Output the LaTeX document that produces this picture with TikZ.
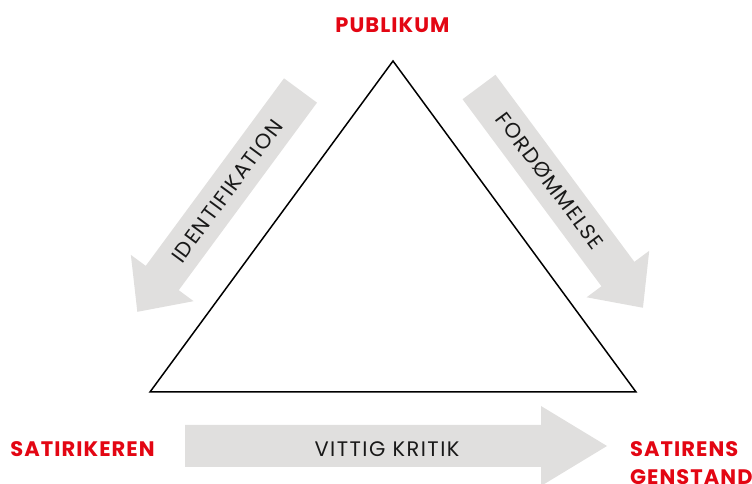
\documentclass[tikz,border=0pt]{standalone}
\usepackage{fontspec}
\setmainfont{Poppins}
\usetikzlibrary{calc}

\definecolor{satred}{RGB}{227,6,19}
\definecolor{arrowgray}{RGB}{224,223,222}
\definecolor{textblack}{RGB}{25,25,25}

\tikzset{
  redlabel/.style={text=satred, font=\bfseries\fontsize{21}{28}\selectfont\addfontfeature{LetterSpace=5}, inner sep=0pt},
  arrowlabel/.style={text=textblack, font=\fontsize{21}{24}\selectfont\addfontfeature{LetterSpace=7}, inner sep=0pt},
  fatarrow/.style={fill=arrowgray, draw=none}
}

\begin{document}
\begin{tikzpicture}[x=1pt,y=1pt]
	\useasboundingbox (0,0) rectangle (752,484);

	%arrows
	\begin{scope}[shift={(300.5,393.5)}, rotate=-126.4]	%identifikation
		\fill[fatarrow] (0,20.5)--(233,20.5)--(233,39)--(275,0)--(233,-39)--(233,-20.5)--(0,-20.5)--cycle;
	\end{scope}
	\begin{scope}[shift={(479,397)}, rotate=-53.4]		%fordommelse
		\fill[fatarrow] (0,20.5)--(233,20.5)--(233,39)--(275,0)--(233,-39)--(233,-20.5)--(0,-20.5)--cycle;
	\end{scope}
	\fill[fatarrow] (185,59)--(541,59)--(541,78)--(607,38)--(541,-2)--(541,17)--(185,17)--cycle;	%kritik

	%triangle
	\coordinate (apex)  at (393,423);
	\coordinate (left)  at (150,92);
	\coordinate (right) at (636,92);
	\draw[line width=1.5pt] (apex)--(left)--(right)--cycle;

	%labels
	\node[redlabel] (publikum)    at (392.5,459) {PUBLIKUM};
	\node[redlabel] (satirikeren) at (82.5,34.5) {SATIRIKEREN};
	\node[redlabel, anchor=west, align=left] (genstand) at (630,20.75) {SATIRENS\\GENSTAND};

	\node[arrowlabel, rotate=53.6]  (identifikation) at (227,293)  {IDENTIFIKATION};
	\node[arrowlabel, rotate=-53.4] (fordommelse)    at (550,303)  {FORDØMMELSE};
	\node[arrowlabel]               (kritik)         at (387,34.5) {VITTIG KRITIK};
\end{tikzpicture}
\end{document}
